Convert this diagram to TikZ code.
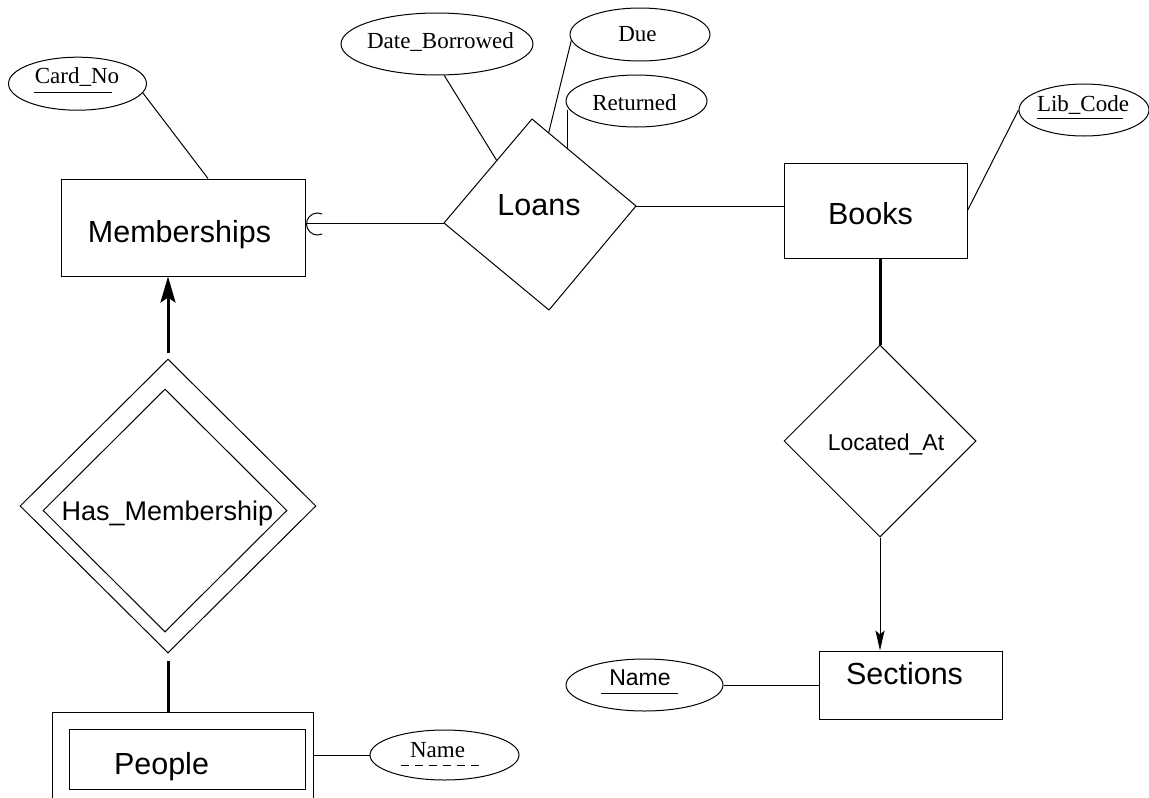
\documentclass[tikz,border=0pt]{standalone}
\usepackage{fontspec}
\setmainfont{Liberation Serif}
\setsansfont{Liberation Sans}
\usetikzlibrary{shapes.geometric,arrows.meta,calc}

\begin{document}
\begin{tikzpicture}[x=1pt,y=-1pt,line width=1pt,
    entity/.style={draw,rectangle,inner sep=0},
    attrib/.style={draw,ellipse,inner sep=0},
    relship/.style={draw,diamond,inner sep=0},
    bigtext/.style={anchor=base,inner sep=0,font=\sffamily\entityfontsize},
    midtext/.style={anchor=base,inner sep=0,font=\sffamily\relfontsize},
    smalltext/.style={anchor=base,inner sep=0,font=\sffamily\attrfontsize},
    attrtext/.style={anchor=base,inner sep=0,font=\attrfontsize},
    heavy/.style={line width=3pt}]
    \providecommand{\entityfontsize}{\fontsize{30.5}{36}\selectfont}
    \providecommand{\relfontsize}{\fontsize{27}{32}\selectfont}
    \providecommand{\attrfontsize}{\fontsize{23}{28}\selectfont}
    \useasboundingbox (0,0) rectangle (1149,798);
    \clip (0,0) rectangle (1149,798);
    % entities
    \node[entity,minimum width=244pt,minimum height=97pt] (mem) at (183,227.5) {};
    \node[bigtext] (mem-t) at (179.5,242) {Memberships};
    \node[entity,minimum width=183pt,minimum height=95pt] (books) at (875.5,210.5) {};
    \node[bigtext] (books-t) at (870.5,224) {Books};
    \node[entity,minimum width=183pt,minimum height=68pt] (sect) at (910.5,685) {};
    \node[bigtext] (sect-t) at (904.5,684) {Sections};
    \node[entity,minimum width=261pt,minimum height=98pt] (pplo) at (182.5,761) {};  % weak entity
    \node[entity,minimum width=236pt,minimum height=60pt] (ppli) at (187,759) {};
    \node[bigtext] (ppl-t) at (161.5,774.5) {People};
    % relationships
    \coordinate (ln) at (532,119);
    \coordinate (le) at (636,206);
    \coordinate (ls) at (549,310);
    \coordinate (lw) at (444,223);
    \draw (ln) -- (le) -- (ls) -- (lw) -- cycle;
    \node[bigtext] (loans-t) at (539,215) {Loans};
    \node[relship,minimum width=192pt,minimum height=192pt] (loc) at (880,441) {};
    \node[smalltext] (loc-t) at (886,450) {Located\_At};
    \node[relship,minimum width=296pt,minimum height=294pt] (hasmo) at (168,506) {};
    \node[relship,minimum width=244pt,minimum height=243pt] (hasmi) at (165,510.5) {};
    \node[midtext] (hasm-t) at (167.5,520) {Has\_Membership};
    % attributes
    \node[attrib,minimum width=138pt,minimum height=53pt] (cardno) at (77.5,83.7) {};
    \node[attrtext] (cardno-t) at (77,83.3) {Card\_No};
    \draw ($(cardno-t.base west)+(0,9)$) -- ++(78,0);
    \node[attrib,minimum width=192pt,minimum height=62pt] (dateb) at (437,44) {};
    \node[attrtext] (dateb-t) at (440.5,48) {Date\_Borrowed};
    \node[attrib,minimum width=140pt,minimum height=53pt] (due) at (640,34.5) {};
    \node[attrtext] (due-t) at (637.5,41) {Due};
    \node[attrib,minimum width=141pt,minimum height=52pt] (ret) at (636.5,101) {};
    \node[attrtext] (ret-t) at (634.5,110) {Returned};
    \node[attrib,minimum width=130pt,minimum height=52pt] (lib) at (1084,110) {};
    \node[attrtext] (lib-t) at (1083,111) {Lib\_Code};
    \draw ($(lib-t.base west)+(0,7)$) -- ++(86,0);
    \node[attrib,minimum width=157pt,minimum height=52pt] (sname) at (644.5,685) {};
    \node[smalltext] (sname-t) at (640,685) {Name};
    \draw ($(sname-t.base west)+(-8,8)$) -- ++(77,0);
    \node[attrib,minimum width=149pt,minimum height=50pt] (pname) at (444.5,755) {};
    \node[attrtext] (pname-t) at (437.5,757) {Name};
    \draw[dash pattern=on 8pt off 6pt] ($(pname-t.base west)+(-9,8)$) -- ++(78,0);
    % connectors
    \draw (cardno.-8) -- ($(mem.north)+(25,0)$);
    \draw (mem.east |- lw) -- (lw);
    \draw ($(mem.east |- lw)+(12,1)$) ++(65:11) arc[start angle=65,end angle=295,radius=11];
    \draw (le) -- (books.west |- le);
    \draw (lib.west) -- (books.east);
    \draw (dateb.-77) -- ($(lw)!0.6!(ln)$);
    \draw (due.185) -- ($(ln)!0.16!(le)$);
    \coordinate (rt) at ($(ln)!0.34!(le)$);
    \draw (rt |- ret.188) -- (rt);
    \draw[heavy] (loc.north |- books.south) -- (loc.north);
    \draw[-{Stealth[length=20pt,width=9pt,inset=4pt]}] (loc.south) -- (loc.south |- sect.north);
    \draw (sname.east) -- (sect.west);
    \draw[heavy,-{Stealth[length=26pt,width=15pt,inset=5pt]}] ($(hasmo.north)+(0,-6)$) -- (mem.south -| hasmo.north);
    \draw[heavy] ($(hasmo.south)+(0,7)$) -- (pplo.north -| hasmo.south);
    \draw (pplo.east |- pname.west) -- (pname.west);
\end{tikzpicture}
\end{document}
